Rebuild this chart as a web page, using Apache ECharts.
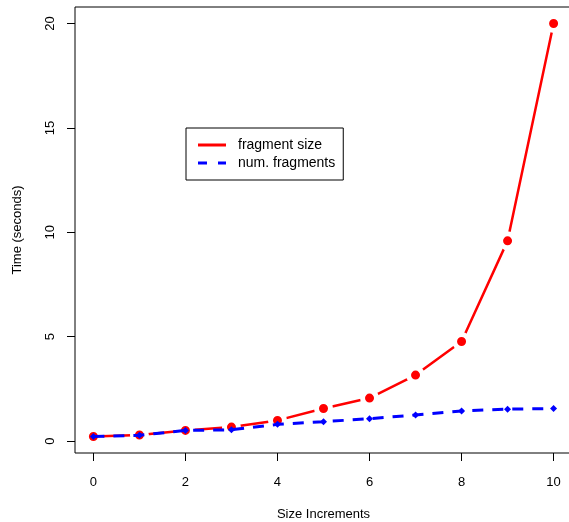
<!DOCTYPE html>
<html>
<head>
<meta charset="utf-8">
<script src="https://cdn.jsdelivr.net/npm/echarts@6/dist/echarts.min.js"></script>
<style>
  html, body { margin: 0; padding: 0; background: #fff; }
  #chart { width: 569px; height: 522px; }
</style>
</head>
<body>
<div id="chart"></div>
<script>
// data
const sizeIncrements = [0, 1, 2, 3, 4, 5, 6, 7, 8, 9, 10];
const fragmentSize = [0.22, 0.29, 0.51, 0.67, 0.99, 1.56, 2.06, 3.16, 4.77, 9.59, 20.0];
const numFragments = [0.22, 0.28, 0.51, 0.54, 0.80, 0.93, 1.07, 1.25, 1.44, 1.53, 1.56];
const xTicks = [0, 2, 4, 6, 8, 10];
const yTicks = [0, 5, 10, 15, 20];

const FONT = 'Liberation Sans, Arial, Helvetica, sans-serif';

// R style axis extension: 4% each side
function pad(values) {
    const lo = Math.min.apply(null, values), hi = Math.max.apply(null, values);
    const d = (hi - lo) * 0.04;
    return [lo - d, hi + d];
}
const xr = pad(sizeIncrements);
const yr = pad(fragmentSize.concat(numFragments));

const chart = echarts.init(document.getElementById('chart'));
chart.setOption({
    animation: false,
    backgroundColor: '#fff',
    textStyle: { fontFamily: FONT, color: '#000' },
    grid: {
        left: 75, top: 7, width: 497, height: 446,
        show: true, borderColor: '#000', borderWidth: 1,
        containLabel: false, outerBoundsMode: 'none'
    },
    legend: {
        orient: 'vertical',
        left: 186, top: 128,
        padding: [10, 8, 10, 12],
        borderColor: '#000', borderWidth: 1,
        backgroundColor: '#fff',
        itemWidth: 28, itemHeight: 3, itemGap: 4,
        itemStyle: { borderWidth: 0 },
        textStyle: { fontFamily: FONT, fontSize: 14, color: '#000', lineHeight: 14, padding: [0, 0, 0, 7] },
        data: [
            { name: 'fragment size', icon: 'path://M0,0h28v3h-28z' },
            { name: 'num. fragments', icon: 'path://M0,0h9v3h-9z M20,0h8v3h-8z' }
        ]
    },
    xAxis: {
        type: 'value',
        min: xr[0], max: xr[1],
        name: 'Size Increments',
        nameLocation: 'middle', nameGap: 55,
        nameTextStyle: { fontFamily: FONT, fontSize: 13, color: '#000' },
        axisLine: { show: false, onZero: false },
        splitLine: { show: false },
        axisTick: { show: true, length: 8, customValues: xTicks, lineStyle: { color: '#000' } },
        axisLabel: { customValues: xTicks, margin: 23, fontFamily: FONT, fontSize: 13, color: '#000' }
    },
    yAxis: {
        type: 'value',
        min: yr[0], max: yr[1],
        name: 'Time (seconds)',
        nameLocation: 'middle', nameGap: 51,
        nameTextStyle: { fontFamily: FONT, fontSize: 13, color: '#000' },
        axisLine: { show: false, onZero: false },
        splitLine: { show: false },
        axisTick: { show: true, length: 8, customValues: yTicks, lineStyle: { color: '#000' } },
        axisLabel: { customValues: yTicks, rotate: 90, margin: 18, fontFamily: FONT, fontSize: 13, color: '#000' }
    },
    series: [
        {
            name: 'fragment size',
            type: 'line',
            data: sizeIncrements.map((x, i) => [x, fragmentSize[i]]),
            symbol: 'circle',
            symbolSize: 14,
            color: '#ff0000',
            lineStyle: { color: '#ff0000', width: 2.5 },
            itemStyle: { color: '#ff0000', borderColor: '#fff', borderWidth: 5 },
            z: 2
        },
        {
            name: 'num. fragments',
            type: 'line',
            data: sizeIncrements.map((x, i) => [x, numFragments[i]]),
            symbol: 'diamond',
            symbolSize: 7,
            color: '#0000ff',
            lineStyle: { color: '#0000ff', width: 3, type: [11, 9] },
            itemStyle: { color: '#0000ff' },
            z: 3
        }
    ]
});
</script>
</body>
</html>
